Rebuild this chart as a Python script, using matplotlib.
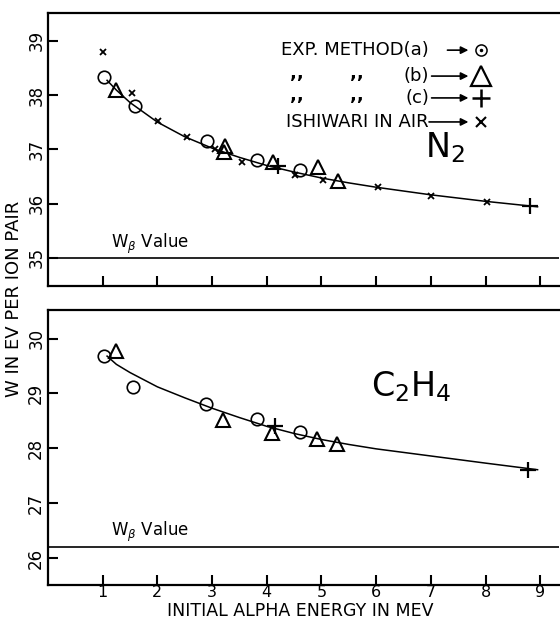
# W (eV per ion pair) vs initial alpha energy, N2 and C2H4

import matplotlib.pyplot as plt

# --- N2 (upper panel) ---
n2_a_x = [1.02, 1.59, 2.90, 3.82, 4.61]
n2_a_y = [38.33, 37.79, 37.15, 36.80, 36.61]
n2_b_x = [1.24, 3.24, 3.22, 4.12, 4.94, 5.31]
n2_b_y = [38.09, 37.06, 36.94, 36.76, 36.67, 36.41]
n2_c_x = [4.21, 8.81]
n2_c_y = [36.69, 35.95]
ishiwari_x = [1.01, 1.53, 2.02, 2.54, 3.05, 3.54, 4.52, 5.03, 6.04, 7.01, 8.02]
ishiwari_y = [38.80, 38.03, 37.52, 37.23, 37.00, 36.77, 36.53, 36.44, 36.30, 36.14, 36.02]
n2_curve_x = [1.08, 1.25, 1.5, 2.0, 2.5, 3.0, 3.5, 4.0, 4.5, 5.0, 5.5, 6.0, 7.0, 8.0, 8.95]
n2_curve_y = [38.27, 38.09, 37.86, 37.50, 37.23, 37.02, 36.85, 36.70, 36.58, 36.47,
              36.38, 36.30, 36.16, 36.04, 35.94]
n2_w_beta = 35.0

# --- C2H4 (lower panel) ---
c2h4_a_x = [1.02, 1.55, 2.89, 3.82, 4.61]
c2h4_a_y = [29.69, 29.11, 28.81, 28.53, 28.29]
c2h4_b_x = [1.24, 3.20, 4.09, 4.91, 5.28]
c2h4_b_y = [29.78, 28.52, 28.28, 28.17, 28.07]
c2h4_c_x = [4.15, 8.78]
c2h4_c_y = [28.41, 27.61]
c2h4_curve_x = [1.08, 1.25, 1.5, 2.0, 2.5, 3.0, 3.5, 4.0, 4.5, 5.0, 5.5, 6.0, 7.0, 8.0, 8.95]
c2h4_curve_y = [29.68, 29.53, 29.38, 29.12, 28.92, 28.73, 28.56, 28.40, 28.27, 28.16,
                28.07, 27.99, 27.86, 27.73, 27.61]
c2h4_w_beta = 26.2

x_ticks = [1, 2, 3, 4, 5, 6, 7, 8, 9]
n2_yticks = [35, 36, 37, 38, 39]
c2h4_yticks = [26, 27, 28, 29, 30]

fig = plt.figure(figsize=(5.6, 6.2), dpi=100)
ax1 = fig.add_axes([0.0857, 0.5387, 0.9133, 0.4403])
ax2 = fig.add_axes([0.0857, 0.0565, 0.9133, 0.4435])

mk = dict(color='black', linestyle='none', markerfacecolor='none')


def style_axes(ax, yticks, ylim, xlabels):
    ax.set_xlim(0, 9.35)
    ax.set_ylim(*ylim)
    ax.spines['right'].set_visible(False)
    for s in ['left', 'top', 'bottom']:
        ax.spines[s].set_linewidth(1.6)
    ax.set_xticks(x_ticks)
    ax.set_yticks(yticks)
    ax.tick_params(axis='both', direction='in', length=7, width=1.5)
    ax.tick_params(axis='y', pad=2, labelsize=12, labelrotation=90)
    ax.tick_params(axis='x', pad=0, labelsize=11.5)
    for lab in ax.get_yticklabels():
        lab.set_va('center')
    if not xlabels:
        ax.set_xticklabels([])


def draw_panel(ax, curve_x, curve_y, ax_, ay_, bx_, by_, cx_, cy_, wb, wb_text_y):
    ax.plot(curve_x, curve_y, color='black', lw=1.1)
    ax.plot(ax_, ay_, marker='o', markersize=9, mew=1.2, **mk)
    ax.plot(bx_, by_, marker='^', markersize=10, mew=1.5, **mk)
    ax.plot(cx_, cy_, marker='+', markersize=12, mew=1.6, **mk)
    ax.axhline(wb, color='black', lw=1.2)
    ax.text(1.16, wb_text_y, r'W$_\beta$ Value', fontsize=12, va='bottom', ha='left')


# upper panel
style_axes(ax1, n2_yticks, (34.48, 39.51), False)
draw_panel(ax1, n2_curve_x, n2_curve_y, n2_a_x, n2_a_y, n2_b_x, n2_b_y,
           n2_c_x, n2_c_y, n2_w_beta, 35.04)
ax1.plot(ishiwari_x, ishiwari_y, marker='x', markersize=5, mew=1.3, **mk)
ax1.text(0.777, 0.505, r'N$_2$', transform=ax1.transAxes, fontsize=24,
         ha='center', va='center')

# legend written as text lines with arrows
leg_y = [0.864, 0.769, 0.689, 0.601]
leg_txt = ['EXP. METHOD(a)', '(b)', '(c)', 'ISHIWARI IN AIR']
arrow_start = [0.781, 0.750, 0.750, 0.745]
for ty, txt, a0 in zip(leg_y, leg_txt, arrow_start):
    ax1.text(0.745, ty, txt, transform=ax1.transAxes, fontsize=13,
             ha='right', va='center')
    ax1.annotate('', xy=(0.822, ty), xytext=(a0, ty), xycoords='axes fraction',
                 arrowprops=dict(arrowstyle='-|>', color='black', lw=1.2,
                                 mutation_scale=11, shrinkA=0, shrinkB=0))
for ty in leg_y[1:3]:
    for dx in [0.486, 0.603]:
        ax1.text(dx, ty + 0.012, ',,', transform=ax1.transAxes, fontsize=13,
                 fontweight='bold', ha='center', va='center')
ax1.plot([0.847], [leg_y[0]], marker='o', markersize=8, mew=1.1,
         transform=ax1.transAxes, **mk)
ax1.plot([0.847], [leg_y[0]], marker='.', markersize=3, color='black',
         transform=ax1.transAxes)
ax1.plot([0.847], [leg_y[1]], marker='^', markersize=15, mew=1.6,
         transform=ax1.transAxes, **mk)
ax1.plot([0.847], [leg_y[2]], marker='+', markersize=13, mew=1.8,
         transform=ax1.transAxes, **mk)
ax1.plot([0.847], [leg_y[3]], marker='x', markersize=7, mew=1.5,
         transform=ax1.transAxes, **mk)

# lower panel
style_axes(ax2, c2h4_yticks, (25.51, 30.52), True)
draw_panel(ax2, c2h4_curve_x, c2h4_curve_y, c2h4_a_x, c2h4_a_y, c2h4_b_x, c2h4_b_y,
           c2h4_c_x, c2h4_c_y, c2h4_w_beta, 26.26)
ax2.text(0.71, 0.72, r'C$_2$H$_4$', transform=ax2.transAxes, fontsize=24,
         ha='center', va='center')

fig.text(0.537, 0.0, 'INITIAL ALPHA ENERGY IN MEV', fontsize=12.5,
         ha='center', va='bottom')
fig.text(0.025, 0.518, 'W IN EV PER ION PAIR', fontsize=13, rotation=90,
         ha='center', va='center')

fig.savefig('out.png', dpi=100)
